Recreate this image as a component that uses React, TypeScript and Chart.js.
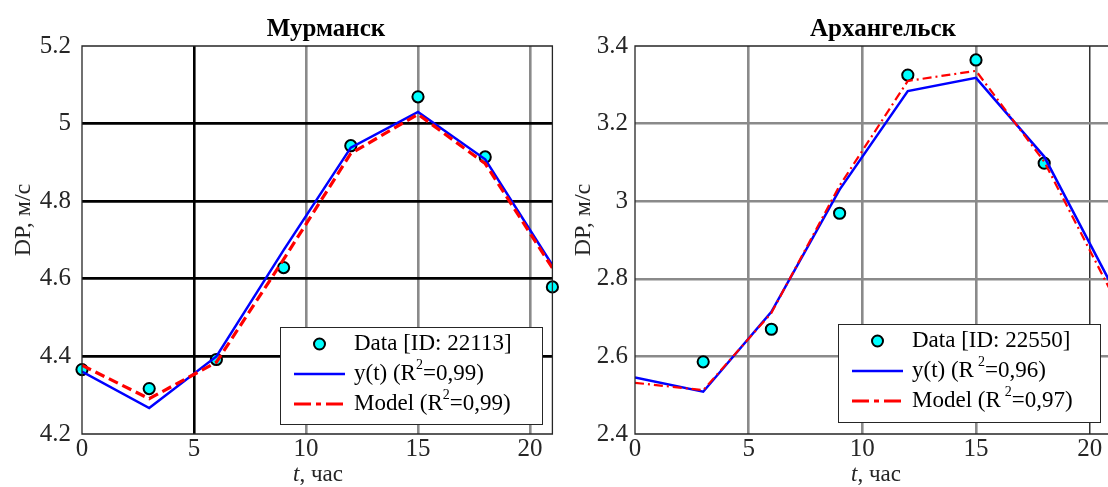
import React, { useEffect, useRef } from "react";
import { Chart, registerables } from "chart.js";

Chart.register(...registerables);

// ---- data ----
const hours = [0, 3, 6, 9, 12, 15, 18, 21];
const xTickValues = [0, 5, 10, 15, 20];

const murmanskData = [4.366, 4.317, 4.392, 4.629, 4.943, 5.069, 4.914, 4.579];
const murmanskFit = [4.361, 4.267, 4.4, 4.674, 4.938, 5.03, 4.908, 4.635];
const murmanskModel = [4.377, 4.291, 4.385, 4.65, 4.923, 5.024, 4.897, 4.628];
const murmanskYTicks = [4.2, 4.4, 4.6, 4.8, 5, 5.2];

const arkhData = [null, 2.586, 2.67, 2.969, 3.325, 3.364, 3.098, null];
const arkhFit = [2.546, 2.509, 2.715, 3.03, 3.284, 3.318, 3.115, 2.78];
const arkhModel = [2.532, 2.513, 2.712, 3.04, 3.31, 3.336, 3.102, 2.76];
const arkhYTicks = [2.4, 2.6, 2.8, 3, 3.2, 3.4];

const FONT = "'Liberation Serif', 'Times New Roman', serif";
const TEXT = "#262626";

type Panel = {
  title: string;
  stationId: string;
  data: (number | null)[];
  fit: number[];
  model: number[];
  yTicks: number[];
  r2Fit: string;
  r2Model: string;
  padLeft: number;
  padRight: number;
  yTickPad: number;
  titleX: number;
  xLabelX: number;
  yLabelY: number;
  legend: { x: number; y: number; w: number; h: number; rows: number[] };
  xGrid: (v: number) => [string, number];
  yGrid: (v: number) => [string, number];
  modelDash: number[];
  modelWidth: number;
  legendDash: number[];
  supGap: number;
};

const panels: Panel[] = [
  {
    title: "Мурманск",
    stationId: "22113",
    data: murmanskData,
    fit: murmanskFit,
    model: murmanskModel,
    yTicks: murmanskYTicks,
    r2Fit: "0,99",
    r2Model: "0,99",
    padLeft: 82,
    padRight: 6,
    yTickPad: 11,
    titleX: 326,
    xLabelX: 318,
    yLabelY: 220,
    legend: { x: 280, y: 327, w: 262, h: 97, rows: [344, 374, 404] },
    xGrid: (v) => (v === 5 ? ["#000000", 2.6] : v === 0 ? ["rgba(0,0,0,0)", 0] : ["#8a8a8a", 2.6]),
    yGrid: (v) => (v <= 4.2 + 1e-9 || v >= 5.2 - 1e-9 ? ["rgba(0,0,0,0)", 0] : ["#000000", 2.8]),
    modelDash: [10, 5],
    modelWidth: 3.2,
    legendDash: [17, 5, 5, 5],
    supGap: 0,
  },
  {
    title: "Архангельск",
    stationId: "22550",
    data: arkhData,
    fit: arkhFit,
    model: arkhModel,
    yTicks: arkhYTicks,
    r2Fit: "0,96",
    r2Model: "0,97",
    padLeft: 75,
    padRight: 7,
    yTickPad: 7,
    titleX: 323,
    xLabelX: 316,
    yLabelY: 220,
    legend: { x: 278, y: 324, w: 262, h: 98, rows: [341, 371, 401] },
    xGrid: (v) => (v === 20 ? ["#333333", 1.5] : v === 0 ? ["rgba(0,0,0,0)", 0] : ["#8a8a8a", 2.6]),
    yGrid: (v) => (v <= 2.4 + 1e-9 || v >= 3.4 - 1e-9 ? ["rgba(0,0,0,0)", 0] : ["#8a8a8a", 2.6]),
    modelDash: [9, 4, 2, 4],
    modelWidth: 2.2,
    legendDash: [17, 5, 5, 5],
    supGap: 4,
  },
];

function drawRich(
  ctx: CanvasRenderingContext2D,
  x: number,
  y: number,
  parts: { t: string; sup?: boolean }[],
  size: number,
  supGap: number
) {
  let cx = x;
  for (const p of parts) {
    if (p.sup) {
      ctx.font = `${Math.round(size * 0.6)}px ${FONT}`;
      cx += supGap;
      ctx.fillText(p.t, cx, y - size * 0.38);
      cx += ctx.measureText(p.t).width;
    } else {
      ctx.font = `${size}px ${FONT}`;
      ctx.fillText(p.t, cx, y);
      cx += ctx.measureText(p.t).width;
    }
  }
}

function makeOverlay(p: Panel) {
  return {
    id: "overlay",
    afterDraw(chart: any) {
      const ctx: CanvasRenderingContext2D = chart.ctx;
      const a = chart.chartArea;
      ctx.save();
      // axes box
      ctx.strokeStyle = "#262626";
      ctx.lineWidth = 1.3;
      ctx.beginPath();
      ctx.rect(a.left, a.top, a.right - a.left, a.bottom - a.top);
      ctx.stroke();

      // title
      ctx.fillStyle = "#000";
      ctx.font = `bold 25px ${FONT}`;
      ctx.textAlign = "center";
      ctx.textBaseline = "alphabetic";
      ctx.fillText(p.title, p.titleX, 36);

      // x label: italic t + ", час"
      ctx.fillStyle = TEXT;
      const fs = 23;
      ctx.font = `italic ${fs}px ${FONT}`;
      const wT = ctx.measureText("t").width;
      ctx.font = `${fs}px ${FONT}`;
      const wRest = ctx.measureText(", час").width;
      const startX = p.xLabelX - (wT + wRest) / 2;
      ctx.textAlign = "left";
      ctx.font = `italic ${fs}px ${FONT}`;
      ctx.fillText("t", startX, 481);
      ctx.font = `${fs}px ${FONT}`;
      ctx.fillText(", час", startX + wT, 481);

      // y label
      ctx.save();
      ctx.translate(30, p.yLabelY);
      ctx.rotate(-Math.PI / 2);
      ctx.textAlign = "center";
      ctx.font = `24px ${FONT}`;
      ctx.fillText("DP, м/с", 0, 0);
      ctx.restore();

      // legend
      const L = p.legend;
      ctx.fillStyle = "#ffffff";
      ctx.fillRect(L.x, L.y, L.w, L.h);
      ctx.strokeStyle = "#262626";
      ctx.lineWidth = 1;
      ctx.strokeRect(L.x + 0.5, L.y + 0.5, L.w, L.h);

      const lx0 = L.x + 14;
      const lx1 = L.x + 65;
      const tx = L.x + 74;
      // Data marker
      ctx.beginPath();
      ctx.arc((lx0 + lx1) / 2, L.rows[0], 5.5, 0, Math.PI * 2);
      ctx.fillStyle = "#00ffff";
      ctx.fill();
      ctx.lineWidth = 2;
      ctx.strokeStyle = "#000";
      ctx.stroke();
      // y(t) line
      ctx.beginPath();
      ctx.moveTo(lx0, L.rows[1]);
      ctx.lineTo(lx1, L.rows[1]);
      ctx.strokeStyle = "#0000ff";
      ctx.lineWidth = 2.5;
      ctx.stroke();
      // model line
      ctx.beginPath();
      ctx.setLineDash(p.legendDash);
      ctx.moveTo(lx0, L.rows[2]);
      ctx.lineTo(lx1, L.rows[2]);
      ctx.strokeStyle = "#ff0000";
      ctx.lineWidth = 3;
      ctx.stroke();
      ctx.setLineDash([]);

      ctx.fillStyle = "#000";
      ctx.textAlign = "left";
      ctx.textBaseline = "middle";
      const ls = 23;
      ctx.font = `${ls}px ${FONT}`;
      ctx.fillText(`Data [ID: ${p.stationId}]`, tx, L.rows[0]);
      drawRich(ctx, tx, L.rows[1], [{ t: "y(t) (R" }, { t: "2", sup: true }, { t: `=${p.r2Fit})` }], ls, p.supGap);
      drawRich(ctx, tx, L.rows[2], [{ t: "Model (R" }, { t: "2", sup: true }, { t: `=${p.r2Model})` }], ls, p.supGap);

      ctx.restore();
    },
  };
}

function PanelChart({ p, left }: { p: Panel; left: number }) {
  const ref = useRef<HTMLCanvasElement | null>(null);
  useEffect(() => {
    if (!ref.current) return;
    const toXY = (arr: (number | null)[]) => hours.map((t, i) => ({ x: t, y: arr[i] }));
    const yMin = p.yTicks[0];
    const yMax = p.yTicks[p.yTicks.length - 1];
    const chart = new Chart(ref.current, {
      type: "line",
      data: {
        datasets: [
          {
            label: "Data",
            data: toXY(p.data) as any,
            showLine: false,
            pointRadius: 5.6,
            pointBackgroundColor: "#00ffff",
            pointBorderColor: "#000000",
            pointBorderWidth: 2,
            order: 3,
            clip: 10,
          } as any,
          {
            label: "y(t)",
            data: toXY(p.fit) as any,
            borderColor: "#0000ff",
            borderWidth: 2.5,
            pointRadius: 0,
            tension: 0,
            order: 2,
          },
          {
            label: "Model",
            data: toXY(p.model) as any,
            borderColor: "#ff0000",
            borderWidth: p.modelWidth,
            borderDash: p.modelDash,
            pointRadius: 0,
            tension: 0,
            order: 1,
          },
        ],
      },
      options: {
        animation: false,
        responsive: false,
        maintainAspectRatio: false,
        layout: { padding: { top: 46, right: p.padRight, bottom: 0, left: 0 } },
        plugins: {
          legend: { display: false },
          tooltip: { enabled: false },
          title: { display: false },
        },
        scales: {
          x: {
            type: "linear",
            min: 0,
            max: 21,
            afterBuildTicks: (s: any) => {
              s.ticks = xTickValues.map((v) => ({ value: v }));
            },
            afterFit: (s: any) => {
              s.height = 53;
            },
            border: { display: false },
            grid: {
              drawTicks: false,
              color: (c: any) => p.xGrid(c.tick?.value)[0],
              lineWidth: (c: any) => p.xGrid(c.tick?.value)[1],
            },
            ticks: {
              padding: 0,
              autoSkip: false,
              maxRotation: 0,
              color: TEXT,
              font: { family: FONT, size: 25 },
              callback: (v: any) => String(v),
            },
          },
          y: {
            type: "linear",
            min: yMin,
            max: yMax,
            afterBuildTicks: (s: any) => {
              s.ticks = p.yTicks.map((v) => ({ value: v }));
            },
            afterFit: (s: any) => {
              s.width = p.padLeft;
            },
            border: { display: false },
            grid: {
              drawTicks: false,
              color: (c: any) => p.yGrid(c.tick?.value)[0],
              lineWidth: (c: any) => p.yGrid(c.tick?.value)[1],
            },
            ticks: {
              padding: p.yTickPad,
              autoSkip: false,
              color: TEXT,
              font: { family: FONT, size: 25 },
              callback: (v: any) => String(Math.round(Number(v) * 10) / 10),
            },
          },
        },
      },
      plugins: [makeOverlay(p)],
    });
    return () => chart.destroy();
  }, [p]);
  return (
    <canvas
      ref={ref}
      width={560}
      height={487}
      style={{ position: "absolute", left, top: 0, width: 560, height: 487 }}
    />
  );
}

export default function App() {
  return (
    <div
      style={{
        position: "fixed",
        left: 0,
        top: 0,
        width: 1108,
        height: 487,
        overflow: "hidden",
        background: "#ffffff",
      }}
    >
      <PanelChart p={panels[0]} left={0} />
      <PanelChart p={panels[1]} left={560} />
    </div>
  );
}
